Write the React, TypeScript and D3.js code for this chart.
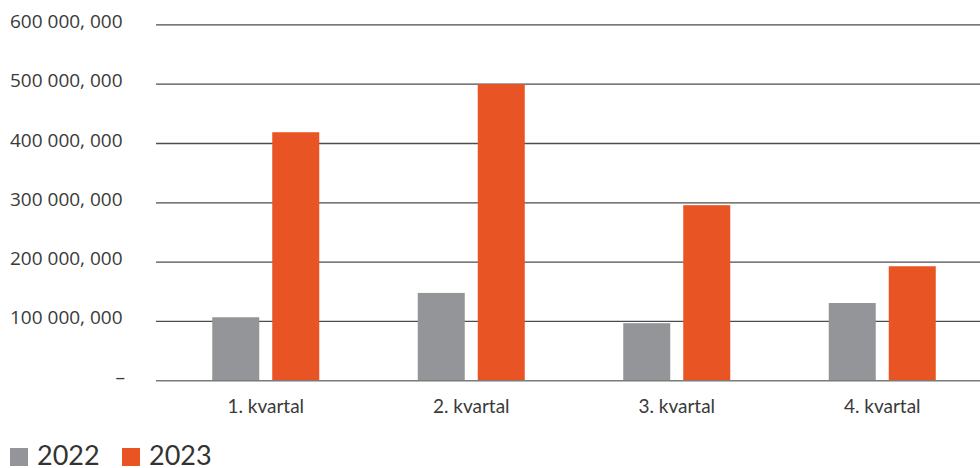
import React from "react";
import * as d3 from "d3";

const quarters = ["1. kvartal", "2. kvartal", "3. kvartal", "4. kvartal"];
const seriesNames = ["2022", "2023"];
const values2022 = [107000000, 148000000, 97000000, 131000000];
const values2023 = [419000000, 500000000, 296000000, 193000000];
const yTicks = [0, 100000000, 200000000, 300000000, 400000000, 500000000, 600000000];
const yTickLabels = ["–", "100 000, 000", "200 000, 000", "300 000, 000", "400 000, 000", "500 000, 000", "600 000, 000"];
const colors = ["#939598", "#E95424"];

const W = 980;
const H = 468;

export default function App() {
  const x = d3.scaleBand<string>().domain(quarters).range([163, 985]).paddingInner(0).paddingOuter(0);
  const inner = d3.scaleBand<string>().domain(seriesNames).range([-53.5, 53.5]).paddingInner(13 / 60).paddingOuter(0);
  const y = d3.scaleLinear().domain([0, 600000000]).range([380.7, 24.9]);
  const series = [values2022, values2023];

  const gridX0 = 156;
  const gridX1 = 980;

  return (
    <svg
      width={W}
      height={H}
      style={{ position: "absolute", left: 0, top: 0, display: "block", background: "#fff" }}
    >
      {/* horizontal gridlines */}
      {yTicks.map((t, i) =>
        t === 0 ? null : (
          <line
            key={"g" + i}
            x1={gridX0}
            x2={gridX1}
            y1={y(t)}
            y2={y(t)}
            stroke="#4d4d4d"
            strokeWidth={1.3}
          />
        )
      )}

      {/* bars */}
      {quarters.map((q, qi) => (
        <g key={q} transform={`translate(${x(q)! + x.bandwidth() / 2},0)`}>
          {seriesNames.map((s, si) => {
            const v = series[si][qi];
            return (
              <rect
                key={s}
                x={inner(s)!}
                width={inner.bandwidth()}
                y={y(v)}
                height={y(0) - y(v)}
                fill={colors[si]}
              />
            );
          })}
        </g>
      ))}

      {/* baseline */}
      <line x1={gridX0} x2={gridX1} y1={y(0)} y2={y(0)} stroke="#7a7a7a" strokeWidth={1.5} />

      {/* y tick labels: numbers flush left, the zero dash set to the right */}
      {yTicks.map((t, i) => (
        <text
          key={"t" + i}
          x={t === 0 ? 125 : 10}
          y={y(t) - 2}
          textAnchor={t === 0 ? "end" : "start"}
          dominantBaseline="middle"
          fontFamily="'Open Sans', sans-serif"
          fontSize={19}
          fill="#3a3a3a"
        >
          {yTickLabels[i]}
        </text>
      ))}

      {/* x category labels */}
      {quarters.map((q) => (
        <text
          key={"x" + q}
          x={x(q)! + x.bandwidth() / 2}
          y={413}
          textAnchor="middle"
          fontFamily="Lato, 'Open Sans', sans-serif"
          fontSize={19}
          fill="#3a3a3a"
        >
          {q}
        </text>
      ))}

      {/* legend */}
      {seriesNames.map((s, i) => {
        const lx = 10 + i * 112;
        return (
          <g key={"l" + s}>
            <rect x={lx} y={448} width={18} height={18} fill={colors[i]} />
            <text
              x={lx + 27}
              y={465}
              fontFamily="Lato, 'Open Sans', sans-serif"
              fontSize={27}
              fill="#333"
            >
              {s}
            </text>
          </g>
        );
      })}
    </svg>
  );
}
